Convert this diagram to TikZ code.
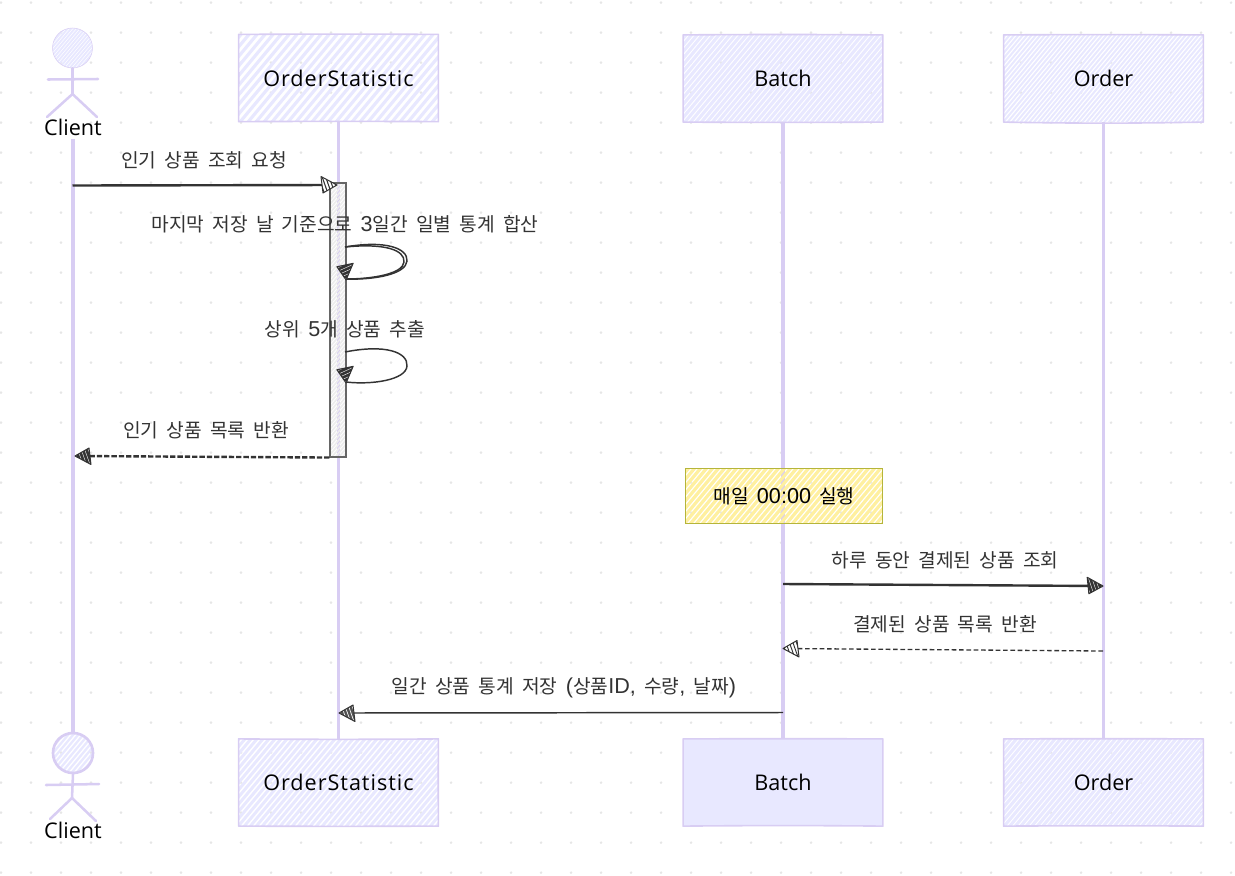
\documentclass[tikz,border=0pt]{standalone}
\usepackage{fontspec}
\usetikzlibrary{arrows.meta,backgrounds,calc}
\setmainfont{Open Sans}
\newfontfamily\spacedfont[LetterSpace=4.5]{Open Sans}
\newfontfamily\krfont[WordSpace=1.9]{Noto Sans CJK KR}
\newfontfamily\ltnfont{Liberation Sans}
\newcommand{\la}[1]{{\ltnfont\fontsize{16.2pt}{17pt}\selectfont #1}}
\newcommand{\ptxt}[1]{\raisebox{-1.3pt}{#1}}
\definecolor{lav}{HTML}{E8E8FF}
\definecolor{lavline}{HTML}{D8CDF3}
\definecolor{txt}{HTML}{333333}
\definecolor{griddot}{HTML}{E6E6E6}
\definecolor{notefill}{HTML}{FFF0A0}
\definecolor{noteline}{HTML}{B5B53A}
\newcommand{\hatchfill}[3]{%
  \begin{scope}[shift={(path picture bounding box.center)}]
    \foreach \i in {-90,...,90}
      \draw[#3,line width=#2,line cap=butt] ({\i*#1-150},180) -- ({\i*#1+150},-180);
  \end{scope}}
% slightly bent hand-drawn outline round a named node
\newcommand{\wobble}[5]{%
  \draw[draw=lavline,line width=1.2pt,line join=round]
    (#1.north west) to[bend left=#2] (#1.north east)
    to[bend right=#3] (#1.south east)
    to[bend left=#4] (#1.south west)
    to[bend right=#5] cycle;}
% tip position, rotation, fill colour, hatch colour, hatch width
\newcommand{\sketchhead}[5]{%
  \begin{scope}[shift={(#1)},rotate=#2]
    \fill[#3] (1,0) -- (-15,-8.5) -- (-13,8) -- cycle;
    \begin{scope}
      \clip (1,0) -- (-15,-8.5) -- (-13,8) -- cycle;
      \foreach \k in {-18,-14.5,...,0}
        \draw[#4,line width=#5] (\k,-10) -- (\k+7,10);
    \end{scope}
    \draw[txt,line width=.75pt,line join=round] (1,0) -- (-15,-8.5) -- (-13,8) -- cycle;
  \end{scope}}
\tikzset{
  x=0.75pt,y=-0.75pt,
  lifeline/.style={draw=lavline,line width=2.3pt},
  stick/.style={draw=lavline,line width=1.9pt,line cap=round},
  partbox/.style={minimum width=149.5pt,minimum height=65pt,inner sep=0pt,font=\fontsize{16.2pt}{18pt}\selectfont,text=black},
  headnode/.style={circle,draw=lavline,minimum size=30pt,inner sep=0pt},
  actorlabel/.style={font=\fontsize{16.2pt}{18pt}\selectfont,text=black,inner sep=0pt},
  msgtext/.style={font=\krfont\fontsize{14.4pt}{17pt}\selectfont,text=txt,inner sep=0pt},
  msg/.style={draw=txt,line width=1.1pt},
  msgthick/.style={draw=txt,line width=1.8pt},
  retmsg/.style={draw=txt,line width=1pt,dash pattern=on 3.5pt off 2pt},
}
\begin{document}
\begin{tikzpicture}
\useasboundingbox (0,0) rectangle (1235,875);
% participants
\node[partbox,path picture={\hatchfill{8}{2.4pt}{lav}}] (osT) at (338.5,78) {\ptxt{\spacedfont OrderStatistic}};
\node[partbox,path picture={\hatchfill{5.5}{2.3pt}{lav}}] (bT) at (783,78.5) {\ptxt{Batch}};
\node[partbox,path picture={\hatchfill{4.4}{1.5pt}{lav}}] (oT) at (1103.5,78.5) {\ptxt{Order}};
\node[partbox,path picture={\hatchfill{6}{2.2pt}{lav}}] (osB) at (338.5,782.5) {\ptxt{\spacedfont OrderStatistic}};
\node[partbox,fill=lav] (bB) at (783,782.5) {\ptxt{Batch}};
\node[partbox,path picture={\hatchfill{5.5}{2.3pt}{lav}}] (oB) at (1103.5,782.5) {\ptxt{Order}};
\wobble{osT}{.3}{.2}{-.2}{.3}
\wobble{bT}{.4}{.2}{.3}{.2}
\wobble{oT}{.3}{.3}{1}{.3}
\wobble{osB}{-.4}{.4}{.2}{.2}
\wobble{bB}{.2}{.2}{-.5}{.2}
\wobble{oB}{.2}{.2}{-.3}{.3}
% actors
\node[headnode,path picture={\hatchfill{3.5}{1.4pt}{lav}}] (cTh) at (72.5,48) {};
\node[actorlabel] (cTl) at (73,127) {Client};
\node[headnode,line width=2pt,path picture={\hatchfill{5}{1.7pt}{lav}}] (cBh) at (73,753) {};
\node[actorlabel] (cBl) at (73,830) {Client};
\coordinate (cTn) at (72.5,94);
\coordinate (cBn) at (72,798);
\draw[stick] (cTh.south) -- (cTn);
\draw[stick] (48,79.5) -- (98,79);
\draw[stick] (47,117) -- (cTn) -- (97,117);
\draw[stick] (cBh.south) -- (cBn);
\draw[stick] (46,785) -- (99,784);
\draw[stick] (50,819) -- (cBn) -- (96,821);
% activation and note
\node[draw=black!60,line width=.8pt,minimum width=12pt,minimum height=205.5pt,inner sep=0pt,path picture={\hatchfill{3.6}{1.3pt}{black!7}}] (act) at (338,320) {};
\node[draw=noteline,line width=.9pt,minimum width=148pt,minimum height=41.5pt,inner sep=0pt,text=black,font=\krfont\fontsize{14.4pt}{17pt}\selectfont,path picture={\hatchfill{6}{2.4pt}{notefill}}] (note) at (784,496) {매일 \la{00:00} 실행};
% lifelines behind everything
\begin{pgfonlayer}{background}
  \foreach \gx in {1,31,...,1231}
    \foreach \gy in {2.7,32.7,...,872.7}
      \fill[griddot] (\gx,\gy) circle (1.1pt);
  \draw[lifeline] ($(cTl.south)+(0,3)$) -- (cBh.north);
  \draw[lifeline] (osT.south) -- (osB.north);
  \draw[lifeline] (bT.south) -- (bB.north);
  \draw[lifeline] (oT.south) -- (oB.north);
\end{pgfonlayer}
% message labels
\node[msgtext] (t1) at (204,160) {인기 상품 조회 요청};
\node[msgtext] (t2) at (345,224) {마지막 저장 날 기준으로 \la{3}일간 일별 통계 합산};
\node[msgtext] (t3) at (345,329) {상위 \la{5}개 상품 추출};
\node[msgtext] (t4) at (206,430) {인기 상품 목록 반환};
\node[msgtext] (t5) at (945,560) {하루 동안 결제된 상품 조회};
\node[msgtext] (t6) at (945,624) {결제된 상품 목록 반환};
\node[msgtext] (t7) at (564,688) {일간 상품 통계 저장 \la{(}상품\la{ID,} 수량\la{,} 날짜\la{)}};
% connector ends
\coordinate (m1a) at (72.5,185.5);   \coordinate (m1b) at (336,185);
\coordinate (s1a) at (345,247);      \coordinate (s1b) at (346,279);
\coordinate (s2a) at (345,352);      \coordinate (s2b) at (346,382);
\coordinate (m4a) at (act.south west); \coordinate (m4b) at (76,456);
\coordinate (m5a) at (783,584);      \coordinate (m5b) at (1102,586);
\coordinate (m6a) at (1103,651);     \coordinate (m6b) at (784,648.5);
\coordinate (m7a) at (783,712.5);    \coordinate (m7b) at (340,713);
% connectors
\draw[msgthick] (m1a) -- (m1b);
\draw[msg] (s1a) .. controls (385,240) and (408,248) .. (407,261) .. controls (406,274) and (375,280) .. (s1b);
\draw[msg] (s1a) .. controls (385,243) and (405,250) .. (404,262) .. controls (403,274) and (372,279) .. (s1b);
\draw[msg] (s2a) .. controls (385,344) and (408,352) .. (407,366) .. controls (406,380) and (372,385) .. (s2b);
\draw[msgthick,dash pattern=on 4pt off 1.5pt] (m4a) -- (m4b);
\draw[msgthick] (m5a) -- (m5b);
\draw[retmsg] (m6a) -- (m6b);
\draw[msg] (m7a) -- (m7b);
% arrowheads
\sketchhead{m1b}{0}{white}{txt}{.8pt}
\sketchhead{s1b}{-85}{txt}{white}{.3pt}
\sketchhead{s2b}{-85}{txt}{white}{.3pt}
\sketchhead{m4b}{180}{txt}{white}{.3pt}
\sketchhead{m5b}{-1}{txt}{white}{.3pt}
\sketchhead{m6b}{180}{white}{txt}{.7pt}
\sketchhead{m7b}{180}{txt!85!white}{white}{.5pt}
\end{tikzpicture}
\end{document}
